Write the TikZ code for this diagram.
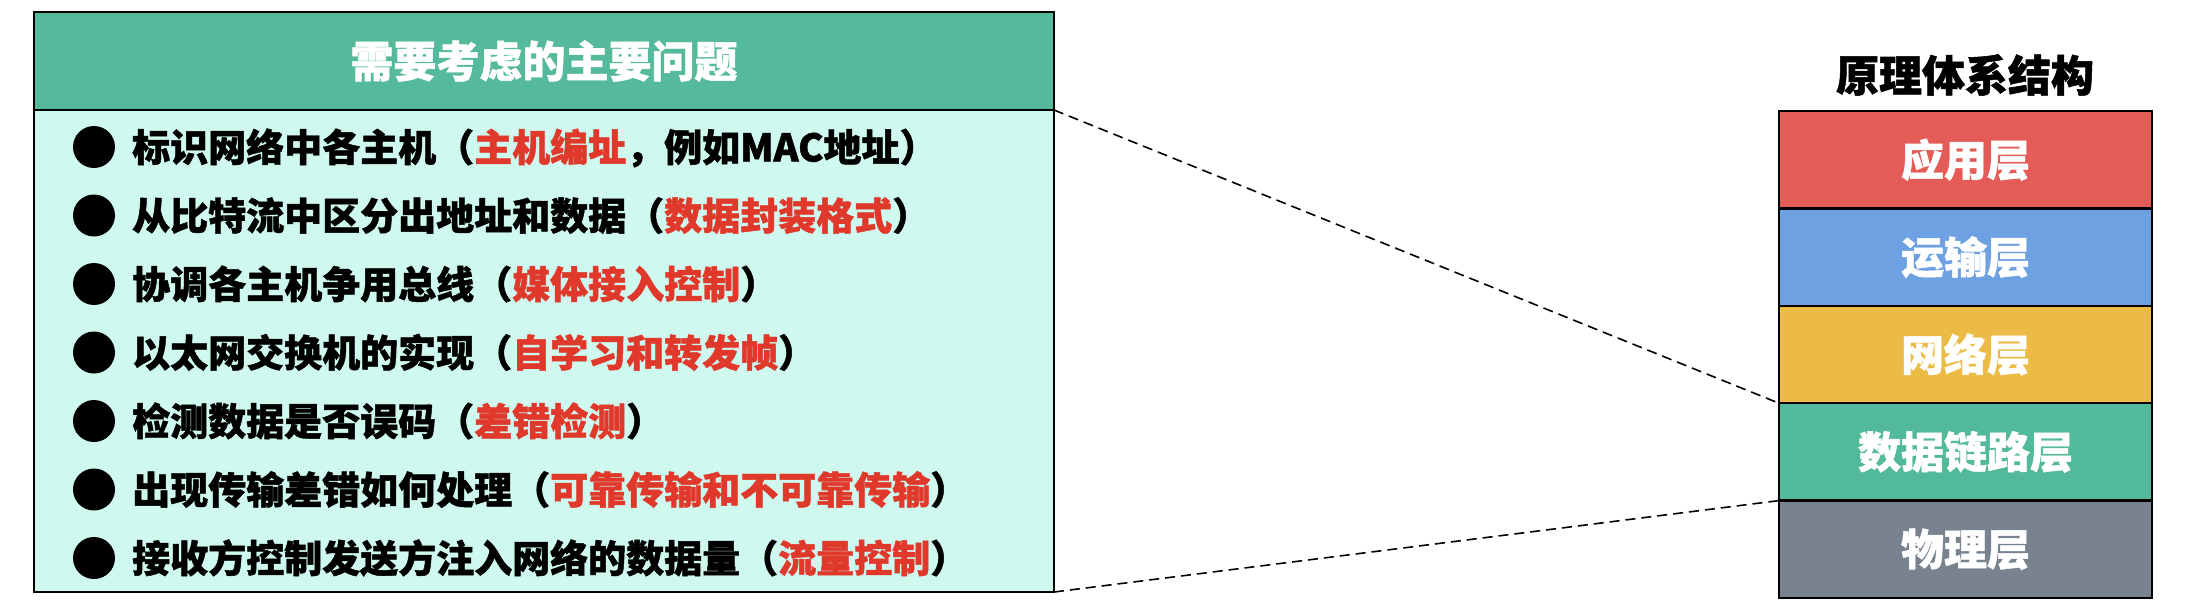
\documentclass[tikz,border=0pt]{standalone}
\usepackage{fontspec}
\setmainfont{Noto Sans CJK SC}[BoldFeatures={FakeBold=1.2}]
\definecolor{hdr}{HTML}{55B99B}
\definecolor{bodyc}{HTML}{CFF9EF}
\definecolor{redtxt}{HTML}{E0392B}
\definecolor{appc}{HTML}{E45C58}
\definecolor{transc}{HTML}{6EA1E2}
\definecolor{netc}{HTML}{EBBB46}
\definecolor{linkc}{HTML}{52B99A}
\definecolor{physc}{HTML}{78838F}
\newcommand{\Rd}[1]{\textcolor{redtxt}{#1}}
\begin{document}
\begin{tikzpicture}[x=1pt,y=-1pt,
  box/.style={draw=black, line width=2.5pt, anchor=north west, inner sep=0pt, outer sep=0pt},
  item/.style={anchor=base west, inner sep=0pt, font=\fontsize{38}{40}\selectfont\bfseries},
  bul/.style={circle, fill=black, minimum size=42pt, inner sep=0pt},
  layer/.style={box, minimum width=373pt, minimum height=97.4pt, text=white, font=\fontsize{43}{45}\selectfont\bfseries},
  conn/.style={dash pattern=on 10pt off 6pt, line width=1.6pt}
]
\useasboundingbox (0,0) rectangle (2186,608);
% left box
\node[box, fill=hdr, minimum width=1020pt, minimum height=98pt, text=white, font=\fontsize{43}{45}\selectfont\bfseries] (header) at (34,12) {需要考虑的主要问题};
\node[box, fill=bodyc, minimum width=1020pt, minimum height=482pt] (body) at (34,110) {};
% items
\foreach \t [count=\i from 0] in {%
  {标识网络中各主机（\Rd{主机编址}，例如MAC地址）},
  {从比特流中区分出地址和数据（\Rd{数据封装格式}）},
  {协调各主机争用总线（\Rd{媒体接入控制}）},
  {以太网交换机的实现（\Rd{自学习和转发帧}）},
  {检测数据是否误码（\Rd{差错检测}）},
  {出现传输差错如何处理（\Rd{可靠传输和不可靠传输}）},
  {接收方控制发送方注入网络的数据量（\Rd{流量控制}）}}{
  \pgfmathsetmacro{\yc}{147+68.5*\i}
  \node[bul] (b\i) at (94,\yc) {};
  \node[item] (t\i) at (132,\yc+14.5) {\t};
}
% right stack
\node[font=\fontsize{43}{45}\selectfont\bfseries, inner sep=0pt] (ttl) at (1965,75) {原理体系结构};
\node[layer, fill=appc] (app) at (1779,111) {应用层};
\node[layer, fill=transc] (trans) at (1779,208.4) {运输层};
\node[layer, fill=netc] (net) at (1779,305.8) {网络层};
\node[layer, fill=linkc] (link) at (1779,403.2) {数据链路层};
\node[layer, fill=physc] (phys) at (1779,500.6) {物理层};
% connectors
\draw[conn] (body.north east) -- (link.north west);
\draw[conn] (body.south east) -- (phys.north west);
\end{tikzpicture}
\end{document}
